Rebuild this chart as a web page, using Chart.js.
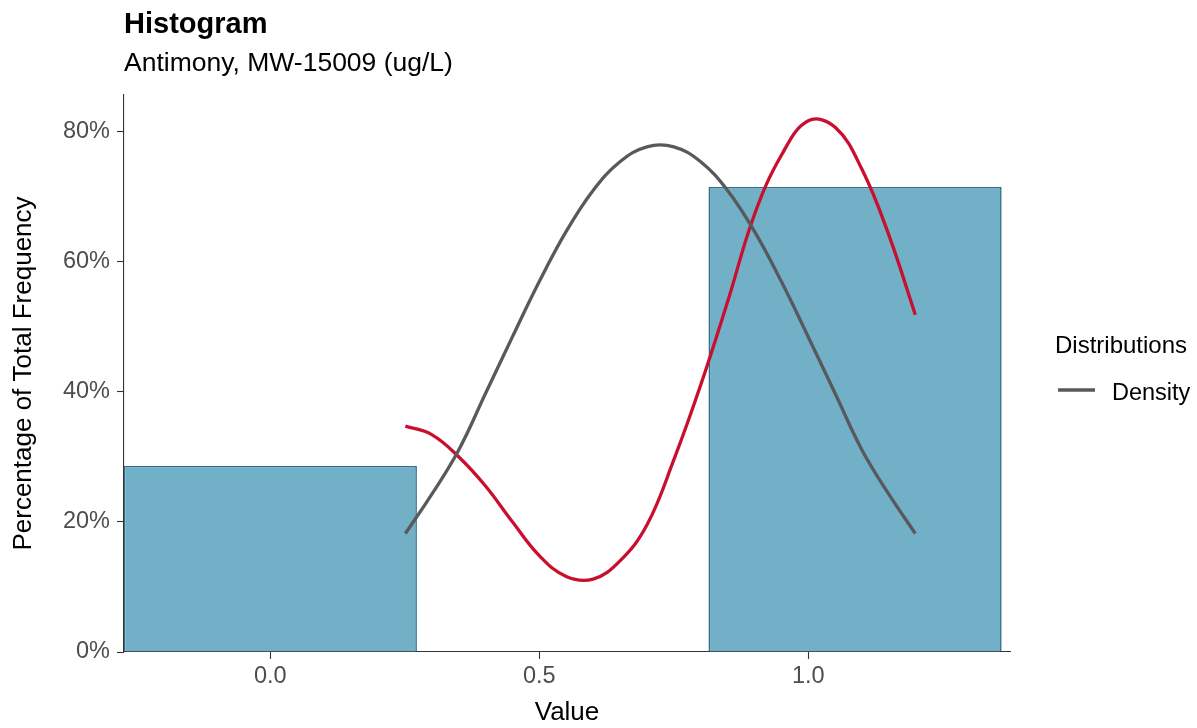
<!DOCTYPE html>
<html>
<head>
<meta charset="utf-8">
<title>Histogram</title>
<script src="https://cdn.jsdelivr.net/npm/chart.js@4.4.1/dist/chart.umd.min.js"></script>
<style>
  html, body { margin: 0; padding: 0; background: #fff; }
  #wrap { width: 1197px; height: 728px; }
</style>
</head>
<body>
<div id="wrap"><canvas id="grafica"></canvas></div>
<script>
// histogram bins: centre of each bin and % of total frequency
const binCenters = [0, 1.087];
const binPercent = [28.57, 71.43];

// grey density curve
const densityX = [0.251, 0.30, 0.35, 0.40, 0.45, 0.50, 0.55, 0.60, 0.65, 0.70, 0.75, 0.80, 0.85, 0.90, 0.95, 1.00, 1.05, 1.10, 1.15, 1.199];
const densityY = [18.2, 24.2, 31.0, 39.7, 48.4, 56.9, 64.6, 70.9, 75.3, 77.6, 77.6, 75.3, 70.9, 64.6, 56.9, 48.4, 39.7, 31.0, 24.2, 18.2];

// red curve
const redX = [0.251, 0.30, 0.35, 0.40, 0.45, 0.50, 0.55, 0.60, 0.65, 0.70, 0.75, 0.80, 0.85, 0.90, 0.95, 1.00, 1.05, 1.10, 1.15, 1.199];
const redY = [34.7, 33.4, 30.0, 25.5, 20.0, 14.8, 11.6, 11.2, 14.0, 19.5, 29.5, 41.0, 53.8, 67.2, 76.3, 81.6, 80.6, 74.1, 64.0, 51.8];

// tick labels
const xTicks = [0, 0.5, 1.0];
const yTicks = [0, 20, 40, 60, 80];

const fuente = '"Liberation Sans", Arial, Helvetica, sans-serif';

// title, subtitle and legend drawn next to the chart area
const textos = {
  id: 'textos',
  afterDraw(chart) {
    const ctx = chart.ctx;
    const area = chart.chartArea;
    const ds = chart.data.datasets[0];
    ctx.save();
    ctx.textAlign = 'left';
    ctx.textBaseline = 'alphabetic';
    ctx.fillStyle = '#000';
    ctx.font = 'bold 29px ' + fuente;
    ctx.fillText('Histogram', area.left, 33);
    ctx.font = '26.5px ' + fuente;
    ctx.fillText('Antimony, MW-15009 (ug/L)', area.left, 71);

    ctx.font = '24px ' + fuente;
    ctx.fillText('Distributions', area.right + 45, 353);
    ctx.strokeStyle = ds.borderColor;
    ctx.lineWidth = ds.borderWidth;
    ctx.beginPath();
    ctx.moveTo(area.right + 48, 390);
    ctx.lineTo(area.right + 85, 390);
    ctx.stroke();
    ctx.font = '23.5px ' + fuente;
    ctx.fillText(ds.label, area.right + 102, 400);
    ctx.restore();
  }
};

const ejeColor = '#333333';

new Chart(document.getElementById('grafica'), {
  type: 'bar',
  data: {
    datasets: [
      {
        type: 'line',
        label: 'Density',
        data: densityX.map((x, i) => ({ x: x, y: densityY[i] })),
        borderColor: '#58595B',
        borderWidth: 3.3,
        borderCapStyle: 'butt',
        pointRadius: 0,
        fill: false,
        tension: 0.4,
        order: 0
      },
      {
        type: 'line',
        label: 'Curve',
        data: redX.map((x, i) => ({ x: x, y: redY[i] })),
        borderColor: '#C8102E',
        borderWidth: 3.3,
        borderCapStyle: 'butt',
        pointRadius: 0,
        fill: false,
        tension: 0.4,
        order: 1
      },
      {
        type: 'bar',
        label: 'Frequency',
        data: binCenters.map((x, i) => ({ x: x, y: binPercent[i] })),
        backgroundColor: '#72B0C8',
        borderColor: '#2E6E8A',
        borderWidth: 1.6,
        // ruler is the 0.5 tick spacing, bins are ~0.545 wide
        barPercentage: 1,
        categoryPercentage: 1.09,
        order: 2
      }
    ]
  },
  options: {
    responsive: true,
    maintainAspectRatio: false,
    animation: false,
    layout: { padding: { top: 95, right: 187, left: 0, bottom: 0 } },
    plugins: {
      legend: { display: false },
      tooltip: { enabled: false }
    },
    scales: {
      x: {
        type: 'linear',
        min: -0.272,
        max: 1.375,
        offset: false,
        afterFit: (scale) => { scale.height = 76; },
        afterBuildTicks: (scale) => { scale.ticks = xTicks.map(v => ({ value: v })); },
        ticks: {
          callback: (v) => Number(v).toFixed(1),
          color: '#4D4D4D',
          font: { family: fuente, size: 23.5 },
          padding: 3,
          maxRotation: 0
        },
        grid: {
          offset: false,
          drawOnChartArea: false,
          drawTicks: true,
          tickLength: 7,
          tickColor: ejeColor,
          tickWidth: 1.1
        },
        border: { display: true, color: ejeColor, width: 1.1 },
        title: {
          display: true,
          text: 'Value',
          color: '#000',
          font: { family: fuente, size: 26 },
          padding: { top: 0, bottom: 0 }
        }
      },
      y: {
        min: 0,
        max: 85.56,
        afterFit: (scale) => { scale.width = 124; },
        afterBuildTicks: (scale) => { scale.ticks = yTicks.map(v => ({ value: v })); },
        ticks: {
          callback: (v) => v + '%',
          color: '#4D4D4D',
          font: { family: fuente, size: 23.5 },
          padding: 7
        },
        grid: {
          drawOnChartArea: false,
          drawTicks: true,
          tickLength: 7,
          tickColor: ejeColor,
          tickWidth: 1.1
        },
        border: { display: true, color: ejeColor, width: 1.1 },
        title: {
          display: true,
          text: 'Percentage of Total Frequency',
          color: '#000',
          font: { family: fuente, size: 26 },
          padding: { top: 8, bottom: 0 }
        }
      }
    }
  },
  plugins: [textos]
});
</script>
</body>
</html>
